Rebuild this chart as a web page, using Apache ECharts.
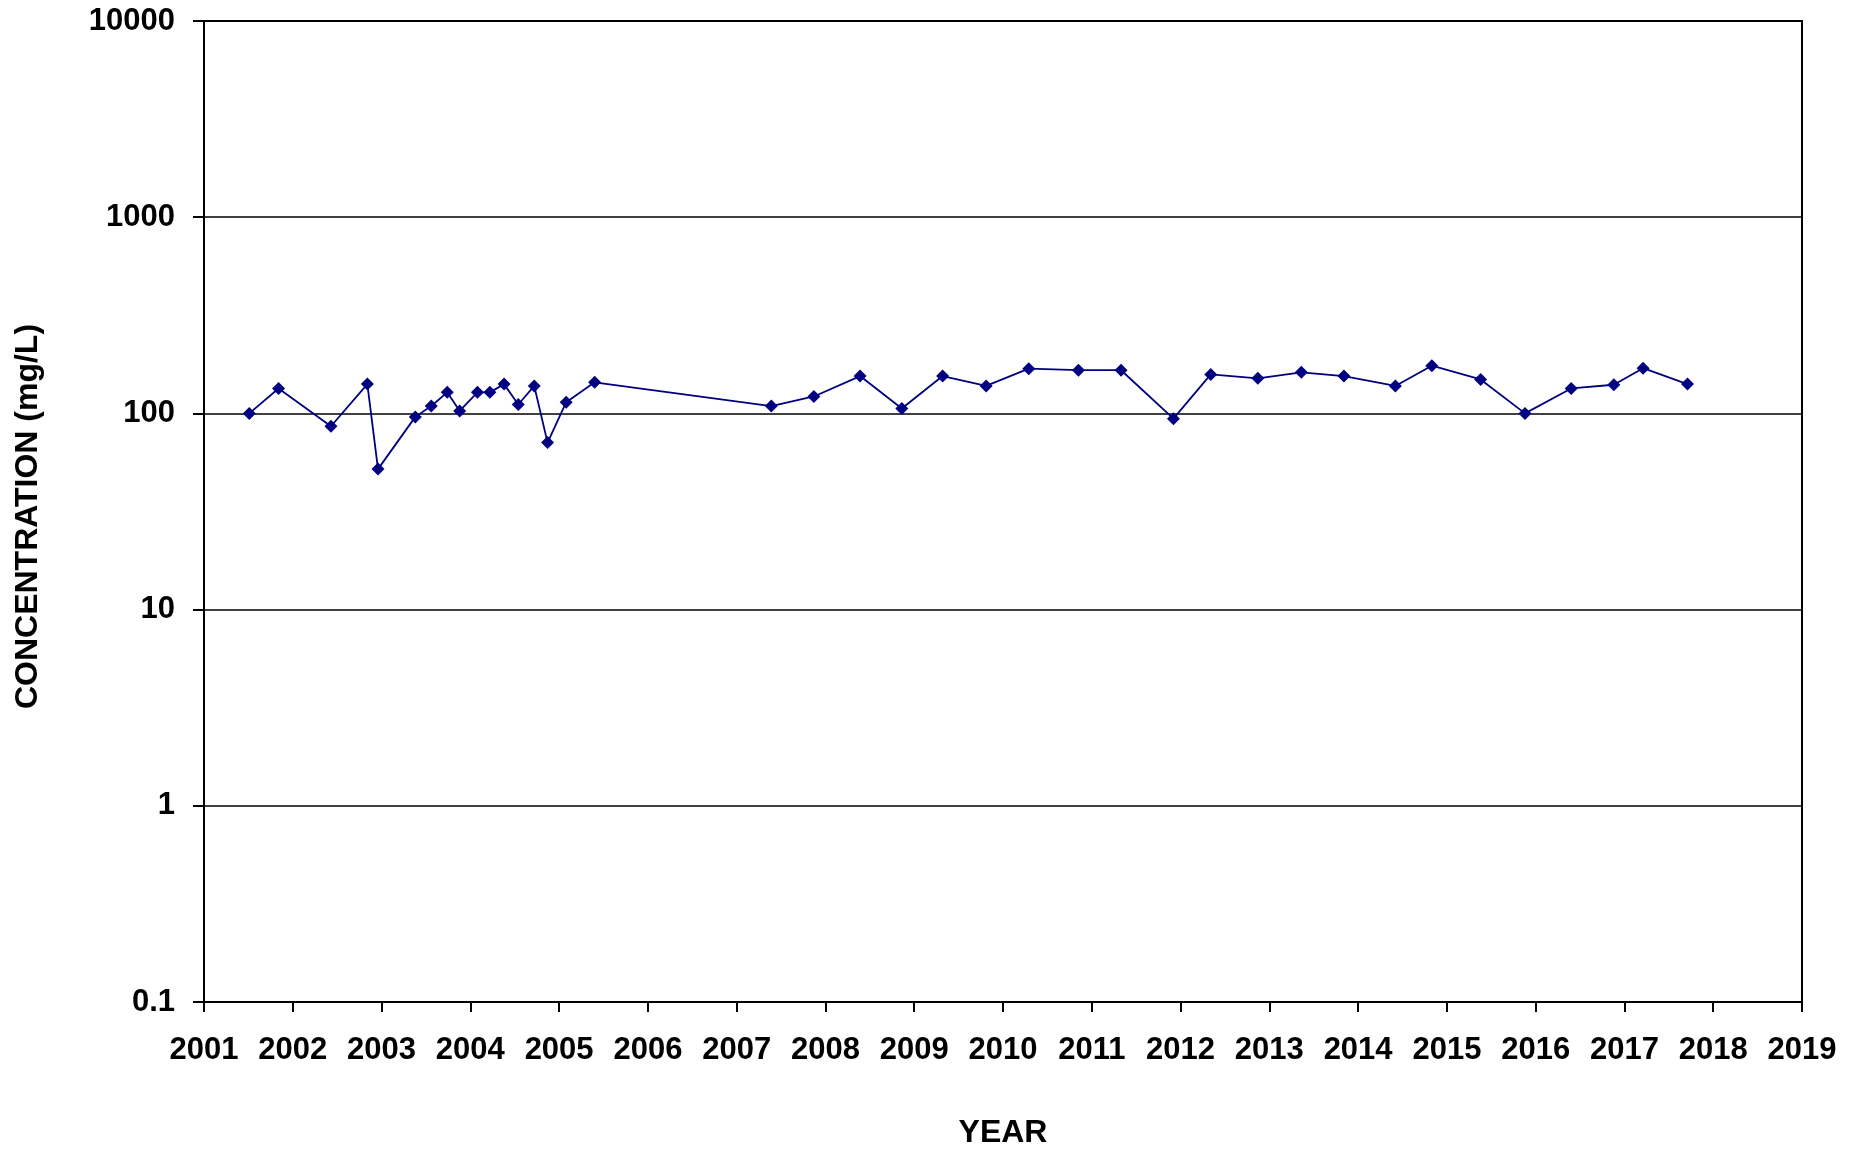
<!DOCTYPE html>
<html>
<head>
<meta charset="utf-8">
<script src="https://cdn.jsdelivr.net/npm/echarts@6/dist/echarts.min.js"></script>
<style>
    html, body { margin: 0; padding: 0; background: #fff; }
    #chart { width: 1860px; height: 1149px; }
</style>
</head>
<body>
<div id="chart"></div>
<script>
/* ===== data (sample date as decimal year, concentration mg/L) ===== */
const sampleYears = [
    2001.51, 2001.84, 2002.43, 2002.84, 2002.96, 2003.38, 2003.56, 2003.74, 2003.88, 2004.08,
    2004.22, 2004.38, 2004.54, 2004.72, 2004.87, 2005.08, 2005.40, 2007.39, 2007.87, 2008.39,
    2008.86, 2009.32, 2009.81, 2010.29, 2010.85, 2011.33, 2011.92, 2012.34, 2012.87, 2013.36,
    2013.84, 2014.42, 2014.83, 2015.38, 2015.88, 2016.40, 2016.88, 2017.21, 2017.71
];
const concentrations = [
    100, 134, 86, 141, 52, 96, 109, 128, 103, 128,
    128, 141, 111, 138, 71, 114, 144, 109, 122, 155,
    106, 155, 138, 169, 166, 166, 94, 158, 151, 162,
    155, 138, 175, 149, 100, 134, 140, 170, 141
];
const yearTicks = [2001, 2019];
const concTicks = [0.1, 10000];

const FONT = "'Liberation Sans', Arial, sans-serif";

const chart = echarts.init(document.getElementById("chart"));
chart.setOption({
    animation: false,
    backgroundColor: "#fff",
    grid: {
        left: 204, right: 58, top: 21, bottom: 147,
        containLabel: false, outerBoundsMode: "none",
        show: true, borderColor: "#000", borderWidth: 2, backgroundColor: "transparent"
    },
    xAxis: {
        type: "value",
        min: yearTicks[0], max: yearTicks[1], interval: 1,
        name: "YEAR", nameLocation: "middle", nameGap: 115,
        nameTextStyle: { fontFamily: FONT, fontWeight: "bold", fontSize: 32, color: "#000" },
        axisLine: { show: true, lineStyle: { color: "#000", width: 2 } },
        axisTick: { show: true, length: 10, lineStyle: { color: "#000", width: 2 } },
        axisLabel: { margin: 33, fontFamily: FONT, fontWeight: "bold", fontSize: 31, color: "#000",
            formatter: v => String(v) },
        splitLine: { show: false }
    },
    yAxis: {
        type: "log", logBase: 10,
        min: concTicks[0], max: concTicks[1],
        name: "CONCENTRATION (mg/L)", nameLocation: "middle", nameGap: 160,
        nameTextStyle: { fontFamily: FONT, fontWeight: "bold", fontSize: 32, color: "#000",
            padding: [0, 10, 0, 0] },
        axisLine: { show: true, lineStyle: { color: "#000", width: 2 } },
        axisTick: { show: true, length: 11, lineStyle: { color: "#000", width: 2 } },
        axisLabel: { margin: 29, fontFamily: FONT, fontWeight: "bold", fontSize: 31, color: "#000",
            formatter: v => String(Math.round(v * 10) / 10) },
        splitLine: { show: true, lineStyle: { color: "#000", width: 1.5 } }
    },
    series: [{
        type: "line",
        data: sampleYears.map((y, i) => [y, concentrations[i]]),
        symbol: "diamond", symbolSize: 13,
        itemStyle: { color: "#000080" },
        lineStyle: { color: "#000080", width: 1.8 }
    }]
});
</script>
</body>
</html>
